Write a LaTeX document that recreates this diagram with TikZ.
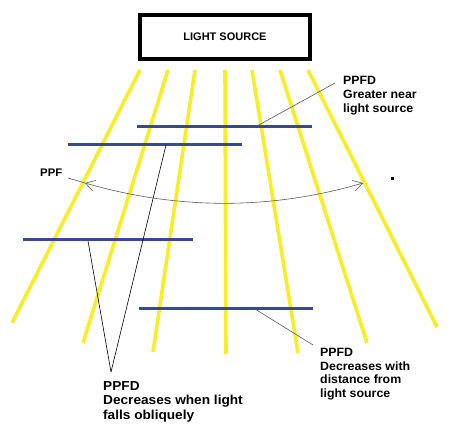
\documentclass[tikz,border=0pt]{standalone}
\usepackage{fontspec}
\setmainfont{Liberation Sans}
\newfontfamily\lblfont[FakeStretch=1.03]{Liberation Sans}
\newfontfamily\oblfont[FakeStretch=1.05]{Liberation Sans}
\usetikzlibrary{arrows.meta}
\definecolor{ray}{RGB}{248,238,40}
\definecolor{leaf}{RGB}{58,70,150}
\definecolor{lead}{RGB}{90,90,90}
\begin{document}
\begin{tikzpicture}[x=1pt,y=-1pt,
  raystyle/.style={draw=ray,line width=3.6pt},
  leafstyle/.style={draw=leaf,line width=3pt},
  leadgray/.style={draw=lead,line width=0.6pt},
  leadblack/.style={draw=black,line width=0.6pt},
  lbl/.style={anchor=north west,inner sep=0pt,align=left,font=\lblfont\fontsize{12}{14}\selectfont\bfseries}]
\useasboundingbox (0,0) rectangle (449,431);
% light source
\node[draw=black,line width=4pt,minimum width=170pt,minimum height=44pt,inner sep=0pt,
      font=\fontsize{11}{13}\selectfont\bfseries] (src) at (225,37) {LIGHT SOURCE};
% rays
\foreach \i/\xa/\xb/\yb in {1/140/12/323,2/168/83/343,3/195/153/352,4/225/226/354,5/252/298/353,6/280/367/343,7/308/437/327}{
  \coordinate (t\i) at (\xa,70);
  \coordinate (b\i) at (\xb,\yb);
  \draw[raystyle] (t\i) -- (b\i);
}
% leaves
\coordinate (a1) at (137,126); \coordinate (a2) at (312,126);
\coordinate (l1) at (68,144);  \coordinate (l2) at (242,144);
\coordinate (c1) at (23,239);  \coordinate (c2) at (193,239);
\coordinate (d1) at (139,308); \coordinate (d2) at (313,308);
\draw[leafstyle] (a1) -- (a2);
\draw[leafstyle] (l1) -- (l2);
\draw[leafstyle] (c1) -- (c2);
\draw[leafstyle] (d1) -- (d2);
% labels
\node[lbl] (near) at (343,76) {PPFD\\Greater near\\light source};
\node[lbl,font=\lblfont\fontsize{11}{13}\selectfont\bfseries] (ppf) at (40,169) {PPF};
\node[lbl,font=\oblfont\fontsize{13}{14.5}\selectfont\bfseries] (obl) at (103,381) {PPFD\\Decreases when light\\falls obliquely};
\node[lbl,font=\lblfont\fontsize{12}{13.7}\selectfont\bfseries] (dist) at (320,348) {PPFD\\Decreases with\\distance from\\light source};
% leader lines
\coordinate (nearend) at (335,83);
\coordinate (neartip) at (257,126);
\draw[leadgray] (nearend) -- (neartip);
\coordinate (ppfend) at (68,178);
\coordinate (arcL) at (85,183);
\coordinate (arcR) at (363,183);
\draw[leadgray] (ppfend) -- (arcL);
\draw[leadgray,{Straight Barb[length=9pt,width=11pt]}-{Straight Barb[length=9pt,width=11pt]}] (arcL) .. controls (178,210) and (271,210) .. (arcR);
\coordinate (conv) at (111,372);
\coordinate (lB) at (166,145);
\coordinate (lC) at (88,241);
\draw[leadblack] (lB) -- (conv);
\draw[leadblack] (lC) -- (conv);
\coordinate (dtip) at (255,309);
\coordinate (dend) at (313,345);
\draw[leadgray] (dtip) -- (dend);
% dot
\fill[black] (390.5,176.5) rectangle (393.5,179.5);
\end{tikzpicture}
\end{document}
